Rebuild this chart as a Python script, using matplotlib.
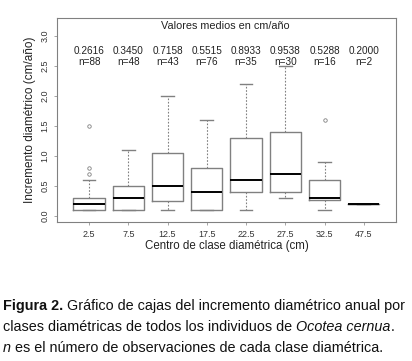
import matplotlib
matplotlib.use("Agg")
import matplotlib.pyplot as plt

plt.rcParams['font.family'] = ['Liberation Sans', 'DejaVu Sans']

# Data
classes = ["2.5", "7.5", "12.5", "17.5", "22.5", "27.5", "32.5", "47.5"]
whislo = [0.1, 0.1, 0.1, 0.1, 0.1, 0.3, 0.1, 0.2]
q1 = [0.1, 0.1, 0.25, 0.1, 0.4, 0.4, 0.27, 0.2]
medians = [0.2, 0.3, 0.5, 0.4, 0.6, 0.7, 0.3, 0.2]
q3 = [0.3, 0.5, 1.05, 0.8, 1.3, 1.4, 0.6, 0.2]
whishi = [0.6, 1.1, 2.0, 1.6, 2.2, 2.5, 0.9, 0.2]
fliers = [[0.7, 0.8, 1.5], [], [], [], [], [], [1.6], []]
means = ["0.2616", "0.3450", "0.7158", "0.5515", "0.8933", "0.9538", "0.5288", "0.2000"]
counts = [88, 48, 43, 76, 35, 30, 16, 2]

fig = plt.figure(figsize=(4.12, 3.61), dpi=100)
ax = fig.add_axes([0.138, 0.385, 0.823, 0.565])

stats = []
for i in range(len(classes)):
    stats.append(dict(med=medians[i], q1=q1[i], q3=q3[i], whislo=whislo[i],
                      whishi=whishi[i], fliers=fliers[i], label=classes[i]))

gray = '#808080'
ax.bxp(stats, positions=range(1, len(classes) + 1), widths=0.8,
       boxprops=dict(color=gray, linewidth=1.0),
       medianprops=dict(color='black', linewidth=1.4),
       whiskerprops=dict(color=gray, linewidth=0.8, linestyle=(0, (1.5, 1.5))),
       capprops=dict(color=gray, linewidth=1.0),
       flierprops=dict(marker='o', markersize=2.5, markerfacecolor='none',
                       markeredgecolor=gray, markeredgewidth=0.6),
       capwidths=0.32)

ax.set_xlim(0.18, 8.82)
ax.set_ylim(-0.1, 3.3)
ax.set_yticks([0.0, 0.5, 1.0, 1.5, 2.0, 2.5, 3.0])
ax.set_yticklabels(["0.0", "0.5", "1.0", "1.5", "2.0", "2.5", "3.0"],
                   rotation=90, va='center', fontsize=6.5, color='#333333')
ax.set_xticks(range(1, len(classes) + 1))
ax.set_xticklabels(classes, fontsize=6.5, color='#333333')
ax.tick_params(axis='both', length=2.5, width=0.5, color=gray, pad=3)
for s in ax.spines.values():
    s.set_color(gray)
    s.set_linewidth(0.8)

ax.set_ylabel("Incremento diamétrico (cm/año)", fontsize=8.5, color='#222222', labelpad=3)
ax.set_xlabel("Centro de clase diamétrica (cm)", fontsize=8.3, color='#222222', labelpad=1)

ax.text(4.46, 3.17, "Valores medios en cm/año", ha='center', va='center', fontsize=7.8, color='#222222')
for i in range(len(classes)):
    ax.text(i + 1, 2.75, means[i], ha='center', va='center', fontsize=7.2, color='#222222')
    ax.text(i + 1, 2.57, "n=%d" % counts[i], ha='center', va='center', fontsize=7.2, color='#222222')

# Caption with mixed styles
cap = 10.4
lines = [
    [("Figura 2.", dict(weight='bold')), (" Gráfico de cajas del incremento diamétrico anual por", {})],
    [("clases diamétricas de todos los individuos de ", {}), ("Ocotea cernua", dict(style='italic')), (".", {})],
    [("n", dict(style='italic')), (" es el número de observaciones de cada clase diamétrica.", {})],
]
ys = [306, 327, 348]
fig.canvas.draw()
renderer = fig.canvas.get_renderer()
W = fig.bbox.width
for parts, ypx in zip(lines, ys):
    x = 3.0
    for txt, kw in parts:
        t = fig.text(x / W, 1 - ypx / 361, txt, fontsize=cap, va='center', ha='left',
                     color='#111111', **kw)
        bb = t.get_window_extent(renderer=renderer)
        x += bb.width

fig.savefig("out.png", dpi=100)
